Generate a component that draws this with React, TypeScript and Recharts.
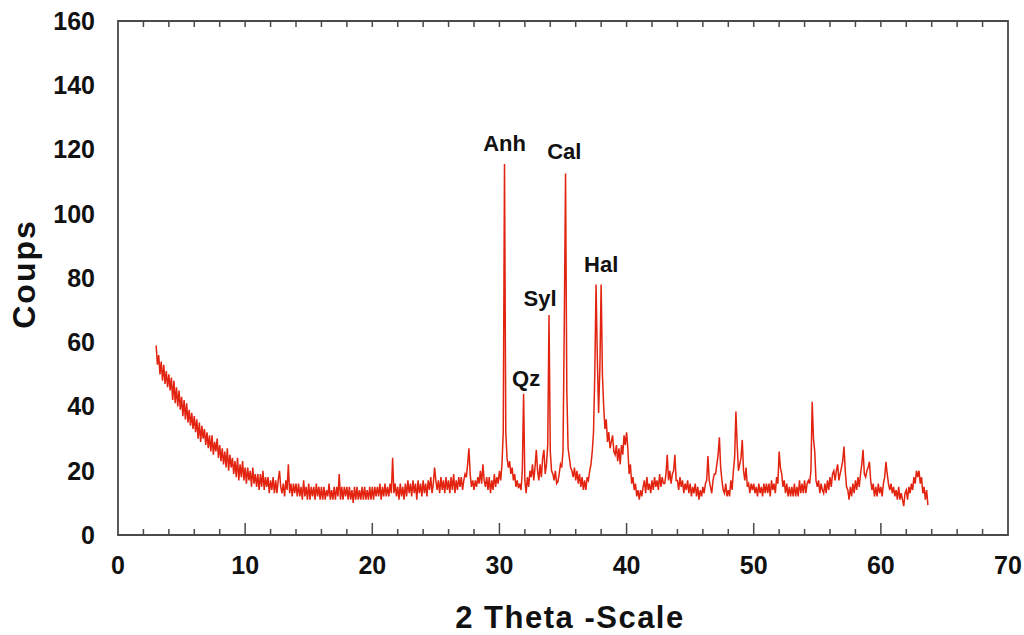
import React from 'react';
import { LineChart, Line, XAxis, YAxis, ReferenceArea, ReferenceDot } from 'recharts';

// 2-theta sampling of the diffractogram
const THETA_START = 3.0;
const THETA_STEP = 0.1;

// Counts, one row per degree (x.0 .. x.9)
const counts: number[] = [
  /* 3 */ 59, 53, 56, 50, 54, 48, 53, 47, 51, 46,
  /* 4 */ 50, 45, 49, 42, 48, 41, 46, 40, 45, 39,
  /* 5 */ 43, 37, 42, 36, 41, 35, 39, 34, 38, 33,
  /* 6 */ 37, 32, 36, 30, 35, 29, 34, 30, 33, 28,
  /* 7 */ 32, 27, 31, 26, 31, 25, 29, 26, 30, 24,
  /* 8 */ 28, 23, 27, 22, 26, 21, 27, 20, 25, 21,
  /* 9 */ 24, 19, 23, 18, 24, 17, 22, 18, 23, 17,
  /* 10 */ 21, 16, 21, 17, 20, 15, 21, 16, 19, 15,
  /* 11 */ 19, 14, 19, 15, 20, 14, 18, 15, 18, 13,
  /* 12 */ 17, 14, 18, 13, 17, 13, 17, 20, 15, 13,
  /* 13 */ 16, 12, 17, 14, 22, 13, 16, 12, 16, 13,
  /* 14 */ 16, 12, 16, 12, 15, 11, 17, 12, 15, 11,
  /* 15 */ 16, 11, 15, 12, 15, 11, 16, 12, 15, 11,
  /* 16 */ 15, 11, 15, 11, 14, 12, 16, 11, 14, 11,
  /* 17 */ 15, 11, 15, 12, 19, 11, 15, 11, 15, 12,
  /* 18 */ 15, 11, 15, 11, 14, 10, 15, 11, 15, 11,
  /* 19 */ 14, 11, 15, 11, 15, 11, 14, 11, 15, 11,
  /* 20 */ 15, 11, 15, 12, 15, 12, 16, 11, 15, 12,
  /* 21 */ 16, 12, 15, 12, 16, 13, 24, 13, 16, 12,
  /* 22 */ 15, 11, 16, 12, 15, 11, 16, 12, 17, 13,
  /* 23 */ 16, 12, 17, 13, 16, 11, 17, 13, 16, 12,
  /* 24 */ 17, 13, 16, 12, 17, 14, 18, 13, 16, 21,
  /* 25 */ 17, 14, 17, 13, 18, 14, 17, 13, 18, 14,
  /* 26 */ 17, 13, 18, 14, 19, 13, 17, 14, 18, 15,
  /* 27 */ 18, 14, 17, 19, 18, 22, 27, 19, 15, 17,
  /* 28 */ 14, 17, 15, 18, 16, 20, 16, 22, 17, 15,
  /* 29 */ 18, 14, 18, 13, 17, 14, 19, 15, 18, 16,
  /* 30 */ 20, 17, 22, 32, 115.5, 32, 24, 21, 23, 19,
  /* 31 */ 21, 17, 19, 15, 17, 14.5, 16, 14, 20, 44,
  /* 32 */ 17, 13, 18, 15, 20, 18, 22, 17, 21, 26.5,
  /* 33 */ 20, 17, 22, 18, 24, 26.5, 19, 22, 28, 68.5,
  /* 34 */ 26, 20, 19, 17, 20, 16, 16.6, 19, 22, 21,
  /* 35 */ 26, 65, 112.5, 45, 27, 24, 21, 20, 18, 21,
  /* 36 */ 17, 20, 16, 19, 15, 18, 14, 17, 14, 18,
  /* 37 */ 17, 20, 22, 26, 32, 50, 78, 55, 38, 52,
  /* 38 */ 78, 50, 40, 33, 36, 29, 32, 27, 29, 31,
  /* 39 */ 26, 25, 28, 23, 27, 22, 28, 25, 31, 28,
  /* 40 */ 32, 27, 19, 22, 16, 18, 14, 16, 12, 14,
  /* 41 */ 11, 14, 12, 15, 17, 13, 18, 14, 16, 13,
  /* 42 */ 17, 14, 18, 15, 17, 14, 19, 15, 18, 16,
  /* 43 */ 16, 19, 25, 17, 20, 16, 19, 20, 25, 17,
  /* 44 */ 17, 14, 18, 15, 17, 13, 16, 14, 17, 13,
  /* 45 */ 16, 12, 15, 13, 16, 12, 15, 11, 14, 12,
  /* 46 */ 15, 13, 16, 17, 24.6, 17, 15, 13, 17, 19,
  /* 47 */ 19, 22, 25, 30.4, 21, 17, 14, 13, 16, 12,
  /* 48 */ 14, 12, 17, 14, 20, 24, 38.4, 28, 20, 22,
  /* 49 */ 24, 29.6, 20, 17, 21, 15, 16, 13, 16, 14,
  /* 50 */ 16, 13, 15, 12, 16, 13, 15, 12, 16, 13,
  /* 51 */ 16, 13, 16, 12, 17, 14, 16, 13, 18, 16,
  /* 52 */ 26, 21, 19, 15, 17, 13, 16, 12, 15, 12,
  /* 53 */ 15, 12, 16, 12, 15, 12, 17, 13, 16, 13,
  /* 54 */ 17, 13, 16, 17, 16, 20, 41.5, 30, 26, 17,
  /* 55 */ 15, 17, 13, 16, 14, 13, 16, 13, 17, 14,
  /* 56 */ 18, 15, 19, 20, 17, 20, 22, 17, 19, 21,
  /* 57 */ 23, 27.5, 20, 15, 14, 11, 15, 12, 16, 13,
  /* 58 */ 17, 14, 18, 15, 19, 22, 26.5, 19, 18, 20,
  /* 59 */ 21, 22.8, 17, 14, 16, 12, 15, 12, 16, 13,
  /* 60 */ 15, 12, 16, 18, 22.8, 19, 16, 14, 16, 13,
  /* 61 */ 15, 12, 14, 11, 15, 11, 13, 11, 9, 13,
  /* 62 */ 14, 11, 15, 13, 16, 14, 18, 16, 20, 18,
  /* 63 */ 20, 16, 18, 13, 15, 11, 14, 9.3,
];

const xTicks = [0, 2, 4, 6, 8, 10, 12, 14, 16, 18, 20, 22, 24, 26, 28, 30, 32, 34, 36, 38, 40, 42, 44, 46, 48, 50, 52, 54, 56, 58, 60, 62, 64, 66, 68, 70];
const yTicks = [0, 20, 40, 60, 80, 100, 120, 140, 160];

// Phase annotations (label, 2-theta, counts at label centre)
const phaseNames = ['Anh', 'Cal', 'Syl', 'Qz', 'Hal'];
const phaseTheta = [30.4, 35.1, 33.2, 32.1, 38.0];
const phaseCounts = [122, 119.5, 73.8, 48.8, 84.4];

const data = counts.map((c, i) => ({
  theta: Math.round((THETA_START + i * THETA_STEP) * 10) / 10,
  counts: c,
}));

const FONT = '"Liberation Sans", Arial, Helvetica, sans-serif';
const AXIS_COLOR = '#4a4a4a';
const CHART_W = 1024;
const CHART_H = 635;
const MARGIN = { top: 21, right: 16, bottom: 0, left: 0 };
const X_AXIS_H = 100;
const PLOT_H = CHART_H - MARGIN.top - MARGIN.bottom - X_AXIS_H;
const X_TICK_MARGIN = 21;

const BottomTick = (props: any) => {
  const { x, y, payload } = props;
  const v = payload.value;
  const axisY = y - X_TICK_MARGIN;
  const topY = axisY - PLOT_H;
  const major = v % 10 === 0;
  const inner = v > 0 && v < 70;
  return (
    <g>
      {inner && (
        <line x1={x} x2={x} y1={axisY} y2={axisY - (major ? 12 : 6)} stroke={AXIS_COLOR} strokeWidth={1.5} />
      )}
      {inner && <line x1={x} x2={x} y1={topY} y2={topY + 6} stroke={AXIS_COLOR} strokeWidth={1.5} />}
      {major && (
        <text x={x} y={y} dy="0.72em" textAnchor="middle" fontFamily={FONT} fontWeight="bold" fontSize={25} fill="#111">
          {v}
        </text>
      )}
    </g>
  );
};

const YTitle = (props: any) => {
  const vb = props.viewBox || { x: 0, y: 21, width: 118, height: 514 };
  const cx = vb.x + 35;
  const cy = vb.y + vb.height / 2 - 4;
  return (
    <text x={cx} y={cy} transform={`rotate(-90 ${cx} ${cy})`} textAnchor="middle" fontFamily={FONT} fontWeight="bold" fontSize={32} letterSpacing={2} fill="#111">
      Coups
    </text>
  );
};

const XTitle = (props: any) => {
  const vb = props.viewBox || { x: 118, y: 535, width: 890, height: 100 };
  const cx = vb.x + vb.width / 2 + 7;
  const cy = vb.y + 93;
  return (
    <text x={cx} y={cy} textAnchor="middle" fontFamily={FONT} fontWeight="bold" fontSize={31} letterSpacing={1.5} fill="#111">
      2 Theta -Scale
    </text>
  );
};

export default function App() {
  return (
    <div style={{ position: 'absolute', left: 0, top: 0, width: CHART_W, height: CHART_H, background: '#fff' }}>
      <LineChart width={CHART_W} height={CHART_H} data={data} margin={MARGIN}>
        <XAxis
          dataKey="theta"
          type="number"
          domain={[0, 70]}
          ticks={xTicks}
          interval={0}
          height={X_AXIS_H}
          axisLine={false}
          tickLine={false}
          tickSize={0}
          tickMargin={X_TICK_MARGIN}
          tick={<BottomTick />}
          label={{ content: XTitle } as any}
        />
        <YAxis
          type="number"
          domain={[0, 160]}
          ticks={yTicks}
          interval={0}
          width={118}
          axisLine={false}
          tickLine={false}
          tickSize={0}
          tickMargin={23}
          tick={{ fontFamily: FONT, fontWeight: 'bold', fontSize: 25, fill: '#111' }}
          label={{ content: YTitle } as any}
        />
        <ReferenceArea x1={0} x2={70} y1={0} y2={160} fill="none" stroke={AXIS_COLOR} strokeWidth={1.8} ifOverflow="visible" />
        <Line
          type="linear"
          dataKey="counts"
          stroke="#e2230f"
          strokeWidth={1.5}
          dot={false}
          isAnimationActive={false}
        />
        {phaseNames.map((name, i) => (
          <ReferenceDot
            key={name}
            x={phaseTheta[i]}
            y={phaseCounts[i]}
            r={1}
            fill="none"
            stroke="none"
            label={{ value: name, position: 'center', fontFamily: FONT, fontWeight: 'bold', fontSize: 22, fill: '#111' }}
          />
        ))}
      </LineChart>
    </div>
  );
}
